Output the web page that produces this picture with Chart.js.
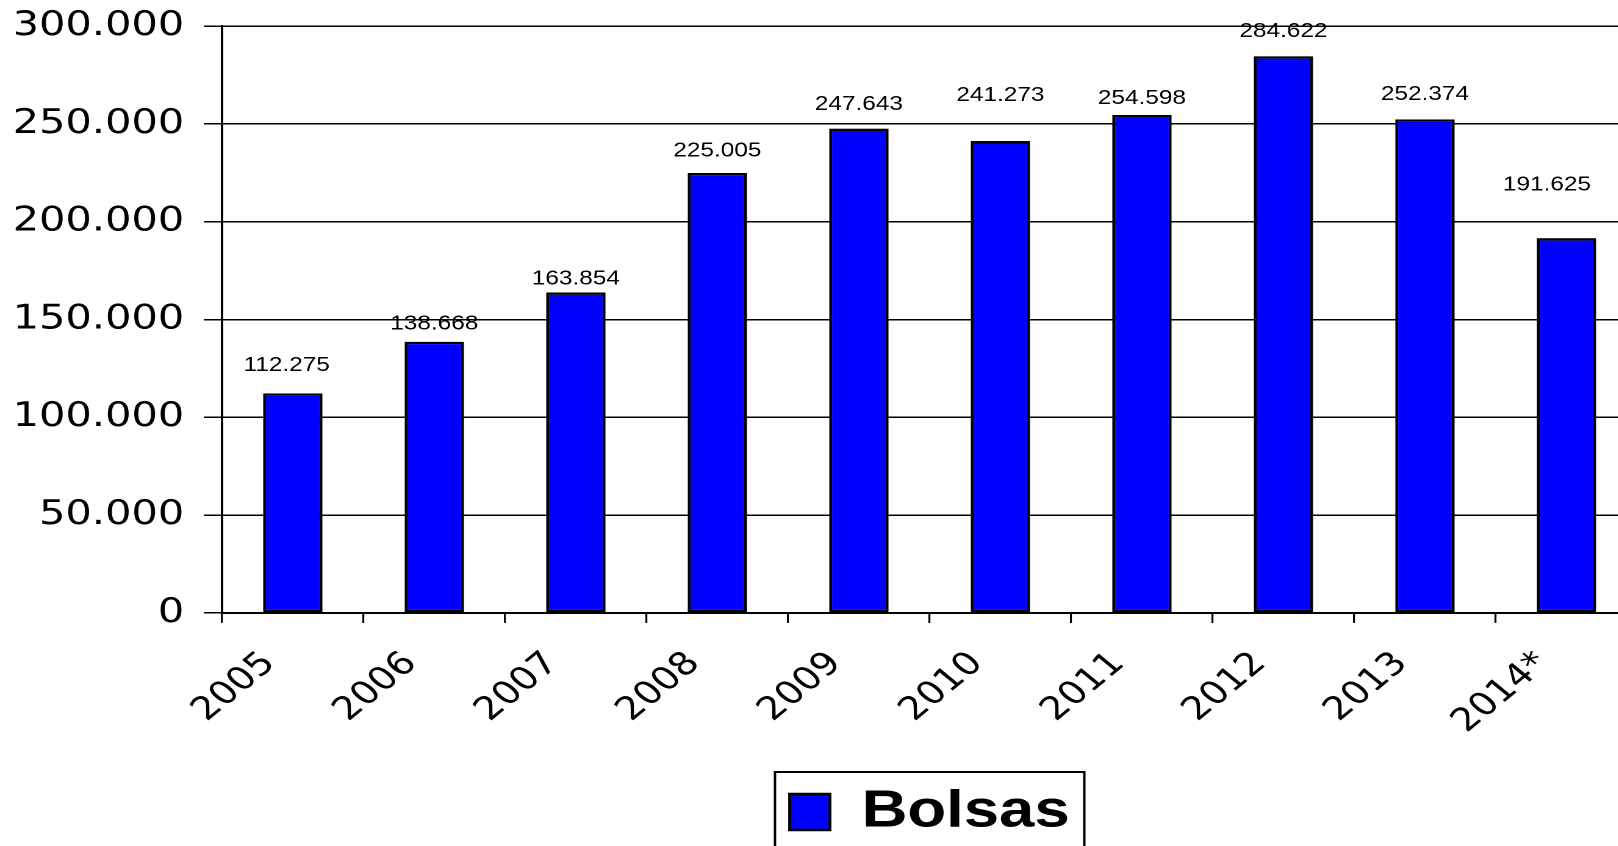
<!DOCTYPE html>
<html>
<head>
<meta charset="utf-8">
<script src="https://cdn.jsdelivr.net/npm/chart.js@4.4.1/dist/chart.umd.min.js"></script>
<style>
html,body{margin:0;padding:0;background:#fff;overflow:hidden;width:1618px;height:846px;}
#wrap{position:absolute;left:0;top:0;width:1342px;height:846px;transform:scaleX(1.22);transform-origin:0 0;}
#c{display:block;width:1342px;height:846px;}
</style>
</head>
<body>
<div id="wrap"><canvas id="c" width="1342" height="846"></canvas></div>
<script>
// ---- data ----
const categories = ['2005', '2006', '2007', '2008', '2009', '2010', '2011', '2012', '2013', '2014*'];
const bolsas = [112275, 138668, 163854, 225005, 247643, 241273, 254598, 284622, 252374, 191625];
const seriesName = 'Bolsas';
const yTicks = [0, 50000, 100000, 150000, 200000, 250000, 300000];
const yTickLabels = ['0', '50.000', '100.000', '150.000', '200.000', '250.000', '300.000'];

// ---- helpers ----
const fmt = v => String(v).replace(/\B(?=(\d{3})+(?!\d))/g, '.');

const valueLabels = {
  id: 'valueLabels',
  afterDatasetsDraw(chart, args, opts) {
    const ctx = chart.ctx;
    const meta = chart.getDatasetMeta(0);
    ctx.save();
    ctx.font = '20px "Liberation Sans", Arial, sans-serif';
    ctx.fillStyle = '#000';
    ctx.textAlign = 'center';
    ctx.textBaseline = 'middle';
    meta.data.forEach((bar, i) => {
      const v = chart.data.datasets[0].data[i];
      ctx.fillText(fmt(v), bar.x + (opts.shift[i] || 0), bar.y - (opts.lift[i] || 24));
    });
    ctx.restore();
  }
};

const legendFrame = {
  id: 'legendFrame',
  afterDraw(chart, args, opts) {
    const lg = chart.legend;
    if (!lg || !lg.legendHitBoxes || !lg.legendHitBoxes.length) return;
    const hb = lg.legendHitBoxes[0];
    const ctx = chart.ctx;
    ctx.save();
    ctx.strokeStyle = '#000';
    ctx.lineWidth = 2;
    ctx.strokeRect(hb.left - opts.padX, hb.top - opts.padTop, hb.width + 2 * opts.padX, 200);
    ctx.restore();
  }
};

new Chart(document.getElementById('c'), {
  type: 'bar',
  data: {
    labels: categories,
    datasets: [{
      label: seriesName,
      data: bolsas,
      backgroundColor: '#0000FF',
      borderColor: '#000000',
      borderWidth: 2.4,
      borderSkipped: false,
      barPercentage: 0.42,
      categoryPercentage: 1.0
    }]
  },
  options: {
    responsive: false,
    animation: false,
    devicePixelRatio: 2,
    layout: { padding: { top: 26, left: 10, right: 0, bottom: -2 } },
    scales: {
      x: {
        grid: { display: true, drawOnChartArea: false, drawTicks: true, tickLength: 10, offset: true, color: '#000', lineWidth: 1.6 },
        border: { display: true, color: '#000', width: 2 },
        ticks: {
          color: '#000',
          font: { family: '"DejaVu Sans", Verdana, sans-serif', size: 32 },
          minRotation: 45, maxRotation: 45,
          autoSkip: false,
          labelOffset: -19,
          padding: 22
        }
      },
      y: {
        min: 0, max: 300000,
        afterBuildTicks: s => { s.ticks = yTicks.map(v => ({ value: v })); },
        afterFit: s => { s.width = 172; },
        grid: { color: '#000', lineWidth: 1.5, tickLength: 15, drawTicks: true },
        border: { display: true, color: '#000', width: 2 },
        ticks: {
          color: '#000',
          font: { family: '"DejaVu Sans", Verdana, sans-serif', size: 34, lineHeight: 0.6 },
          padding: 16,
          callback: v => { const i = yTicks.indexOf(v); return i >= 0 ? yTickLabels[i] : ''; }
        }
      }
    },
    plugins: {
      tooltip: { enabled: false },
      legend: {
        display: true,
        position: 'bottom',
        fullSize: false,
        labels: {
          color: '#000',
          font: { family: '"Liberation Sans", Arial, sans-serif', size: 52, weight: 'bold' },
          boxWidth: 33,
          boxHeight: 36,
          padding: 23
        }
      },
      valueLabels: {
        lift: [28, 18, 13.5, 21.7, 24, 45.6, 16.5, 25, 25, 53],
        shift: [-5, 0, 0, 0, 0, 0, 0, 0, 0, -16]
      },
      legendFrame: { padX: 12, padTop: 14 }
    }
  },
  plugins: [valueLabels, legendFrame]
});
</script>
</body>
</html>
